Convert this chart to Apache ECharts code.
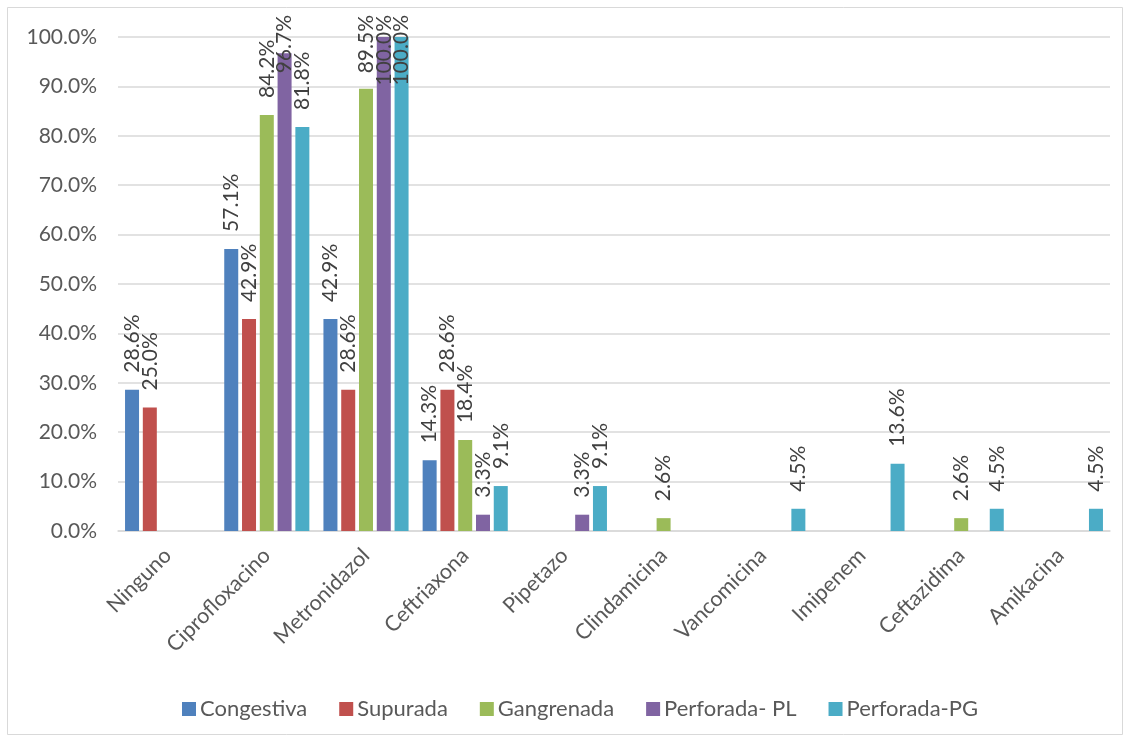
<!DOCTYPE html>
<html>
<head>
<meta charset="utf-8">
<script src="https://cdn.jsdelivr.net/npm/echarts@6/dist/echarts.min.js"></script>
<style>
  html, body { margin: 0; padding: 0; background: #fff; }
  #chart { width: 1130px; height: 742px; }
</style>
</head>
<body>
<div id="chart"></div>
<script>
// Antibiotic use (%) by appendicitis stage
const categories = ['Ninguno', 'Ciprofloxacino', 'Metronidazol', 'Ceftriaxona', 'Pipetazo',
  'Clindamicina', 'Vancomicina', 'Imipenem', 'Ceftazidima', 'Amikacina'];

const seriesNames = ['Congestiva', 'Supurada', 'Gangrenada', 'Perforada- PL', 'Perforada-PG'];

// null = no bar for that category
const congestiva  = [28.6, 57.1, 42.9, 14.3, null, null, null, null, null, null];
const supurada    = [25.0, 42.9, 28.6, 28.6, null, null, null, null, null, null];
const gangrenada  = [null, 84.2, 89.5, 18.4, null, 2.6, null, null, 2.6, null];
const perforadaPL = [null, 96.7, 100.0, 3.3, 3.3, null, null, null, null, null];
const perforadaPG = [null, 81.8, 100.0, 9.1, 9.1, null, 4.5, 13.6, 4.5, 4.5];

const yTicks = { min: 0, max: 100, interval: 10 };

const colors = ['#4F81BD', '#C0504D', '#9BBB59', '#8064A2', '#4BACC6'];
const values = [congestiva, supurada, gangrenada, perforadaPL, perforadaPG];

const FONT = 'Lato, "Open Sans", sans-serif';
const TEXT = '#595959';
const LABEL_TOP_LIMIT = 15; // value labels never rise above this line

const chart = echarts.init(document.getElementById('chart'), null, { renderer: 'canvas' });

chart.setOption({
  animation: false,
  backgroundColor: '#fff',
  color: colors,
  textStyle: { fontFamily: FONT },
  graphic: [{
    type: 'rect',
    shape: { x: 7.5, y: 7.5, width: 1115, height: 727 },
    style: { fill: 'none', stroke: '#d9d9d9', lineWidth: 1 },
    silent: true
  }],
  grid: { left: 118, right: 20, top: 37, bottom: 211 },
  legend: {
    data: seriesNames,
    left: 177,
    top: 693,
    icon: 'rect',
    itemWidth: 14,
    itemHeight: 14,
    itemGap: 32,
    textStyle: { color: TEXT, fontSize: 22, fontFamily: FONT, padding: [0, 0, 0, -1] }
  },
  xAxis: {
    type: 'category',
    data: categories,
    axisTick: { show: false },
    axisLine: { lineStyle: { color: '#d9d9d9', width: 1.5 } },
    axisLabel: { rotate: 45, interval: 0, margin: 21, color: TEXT, fontSize: 21.5, fontFamily: FONT }
  },
  yAxis: {
    type: 'value',
    min: yTicks.min,
    max: yTicks.max,
    interval: yTicks.interval,
    axisLine: { show: false },
    axisTick: { show: false },
    splitLine: { lineStyle: { color: '#d9d9d9', width: 1.5 } },
    axisLabel: {
      margin: 21,
      color: TEXT, fontSize: 21, fontFamily: FONT,
      formatter: v => v.toFixed(1) + '%'
    }
  },
  // keep tall labels inside the chart: push them down so their top sits at the limit
  labelLayout: function (params) {
    const r = params.labelRect;
    if (r && r.y < LABEL_TOP_LIMIT) {
      return { y: LABEL_TOP_LIMIT + r.height };
    }
    return {};
  },
  series: seriesNames.map((name, i) => ({
    name,
    type: 'bar',
    data: values[i],
    barWidth: 14,
    barGap: '27%',
    itemStyle: { color: colors[i] },
    label: {
      show: true,
      position: 'top',
      distance: 17,
      rotate: 90,
      align: 'left',
      verticalAlign: 'middle',
      color: '#404040',
      fontSize: 21,
      fontFamily: FONT,
      formatter: p => (p.value == null ? '' : p.value.toFixed(1) + '%')
    }
  }))
});
</script>
</body>
</html>
